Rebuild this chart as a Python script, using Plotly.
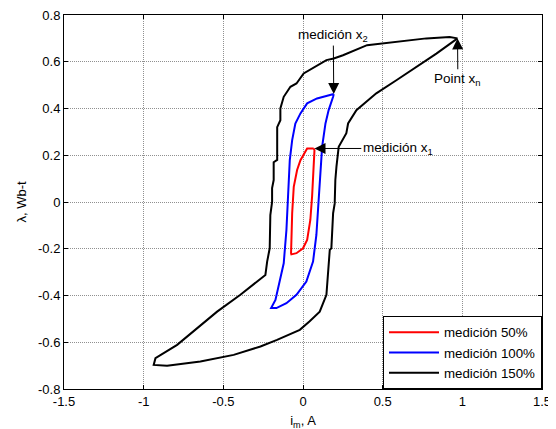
import plotly.graph_objects as go

# ---- data ----
x_tick_vals = [-1.5, -1, -0.5, 0, 0.5, 1, 1.5]
x_tick_text = ["-1.5", "-1", "-0.5", "0", "0.5", "1", "1.5"]
y_tick_vals = [-0.8, -0.6, -0.4, -0.2, 0, 0.2, 0.4, 0.6, 0.8]
y_tick_text = ["-0.8", "-0.6", "-0.4", "-0.2", "0", "0.2", "0.4", "0.6", "0.8"]

# medición 50% (red loop)
i50 = [0.067, 0.026, -0.016, -0.037, -0.058, -0.068, -0.075, -0.073, -0.041, 0.0,
       0.026, 0.046, 0.057, 0.067, 0.072, 0.067]
l50 = [0.229, 0.229, 0.179, 0.137, 0.065, -0.048, -0.219, -0.224, -0.219, -0.198,
       -0.162, -0.077, 0.023, 0.165, 0.222, 0.229]

# medición 100% (blue loop)
i100 = [0.193, 0.088, 0.026, -0.016, -0.048, -0.068, -0.083, -0.096, -0.104, -0.121,
        -0.142, -0.173, -0.200, -0.167, -0.104, -0.041, 0.021, 0.063, 0.084, 0.099,
        0.105, 0.120, 0.141, 0.161, 0.189, 0.193]
l100 = [0.462, 0.443, 0.422, 0.379, 0.336, 0.265, 0.179, 0.023, -0.120, -0.262,
        -0.330, -0.419, -0.454, -0.454, -0.433, -0.397, -0.340, -0.255, -0.141, 0.023,
        0.094, 0.236, 0.336, 0.393, 0.450, 0.462]

# medición 150% (black loop)
i150 = [0.970, 0.920, 0.774, 0.565, 0.402, 0.251, 0.193, 0.147, 0.042, 0.004, -0.041,
        -0.079, -0.121, -0.142, -0.142, -0.162, -0.162, -0.184, -0.184, -0.194, -0.194,
        -0.205, -0.209, -0.225, -0.236, -0.288, -0.393, -0.539, -0.686, -0.790, -0.926,
        -0.937, -0.853, -0.644, -0.435, -0.267, -0.163, -0.020, 0.042, 0.105, 0.147,
        0.151, 0.161, 0.168, 0.178, 0.189, 0.199, 0.203, 0.210, 0.224, 0.272, 0.283,
        0.335, 0.460, 0.586, 0.711, 0.837, 0.970]
l150 = [0.700, 0.706, 0.700, 0.685, 0.671, 0.628, 0.614, 0.607, 0.564, 0.550, 0.507,
        0.493, 0.450, 0.400, 0.350, 0.320, 0.180, 0.170, 0.094, 0.060, 0.000,
        -0.056, -0.198, -0.255, -0.312, -0.340, -0.397, -0.469, -0.554, -0.611, -0.668,
        -0.697, -0.700, -0.682, -0.654, -0.618, -0.590, -0.547, -0.510, -0.469, -0.397,
        -0.362, -0.262, -0.205, -0.198, -0.048, -0.006, 0.094, 0.151, 0.236, 0.294, 0.336,
        0.393, 0.465, 0.521, 0.578, 0.635, 0.700]

FONT = "Liberation Sans, Arial, sans-serif"

fig = go.Figure()
fig.add_trace(go.Scatter(x=i50, y=l50, mode="lines", name="medición 50%",
                         line=dict(color="#ff0000", width=2)))
fig.add_trace(go.Scatter(x=i100, y=l100, mode="lines", name="medición 100%",
                         line=dict(color="#0000ff", width=2)))
fig.add_trace(go.Scatter(x=i150, y=l150, mode="lines", name="medición 150%",
                         line=dict(color="#000000", width=2)))

ann_font = dict(family=FONT, size=13.5, color="#000")
fig.add_annotation(x=0.193, y=0.462, ax=0.19, ay=0.712, axref="x", ayref="y",
                   text="medición x<sub>2</sub>", showarrow=True, arrowhead=2,
                   arrowsize=2.2, arrowwidth=1, arrowcolor="#000", font=ann_font)
fig.add_annotation(x=0.97, y=0.70, ax=0.972, ay=0.525, axref="x", ayref="y",
                   text="Point x<sub>n</sub>", showarrow=True, arrowhead=2,
                   arrowsize=2.2, arrowwidth=1, arrowcolor="#000", font=ann_font)
fig.add_annotation(x=0.072, y=0.229, ax=0.595, ay=0.229, axref="x", ayref="y",
                   text="medición x<sub>1</sub>", showarrow=True, arrowhead=2,
                   arrowsize=2.2, arrowwidth=1, arrowcolor="#000", font=ann_font)

axis_common = dict(showline=True, linecolor="#000", linewidth=1, mirror="ticks",
                   ticks="inside", ticklen=4, tickcolor="#000", automargin=False,
                   ticklabeloverflow="allow",
                   showgrid=True, gridcolor="#909090", griddash="1px,1px", gridwidth=1,
                   zeroline=False, tickfont=dict(family=FONT, size=13, color="#000"))

fig.update_xaxes(range=[-1.5, 1.5], tickvals=x_tick_vals, ticktext=x_tick_text,
                 title=dict(text="i<sub>m</sub>, A", standoff=8,
                            font=dict(family=FONT, size=13, color="#000")),
                 **axis_common)
fig.update_yaxes(range=[-0.8, 0.8], tickvals=y_tick_vals, ticktext=y_tick_text,
                 title=dict(text="λ, Wb-t", standoff=8,
                            font=dict(family=FONT, size=13, color="#000")),
                 **axis_common)

# the page body adds an 8px offset, so margins are reduced accordingly
fig.update_layout(
    width=556, height=429,
    margin=dict(l=55.5, r=22.3, t=6.7, b=47.7),
    paper_bgcolor="#fff", plot_bgcolor="#fff",
    showlegend=True,
    legend=dict(x=1, y=0, xanchor="right", yanchor="bottom",
                bgcolor="#fff", bordercolor="#000", borderwidth=1,
                font=dict(family=FONT, size=13.3, color="#000"),
                tracegroupgap=0, itemwidth=50),
    font=dict(family=FONT, color="#000"),
)

fig.write_html("out.html")
